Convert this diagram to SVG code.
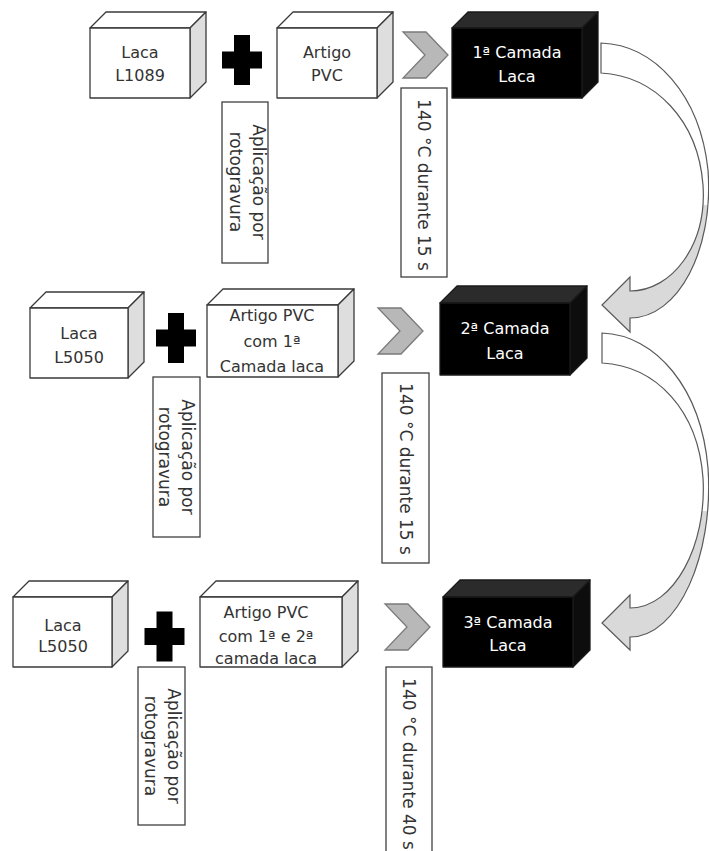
<svg xmlns="http://www.w3.org/2000/svg" width="709" height="851" viewBox="0 0 709 851">
  <style>
    .face{stroke:#3a3a3a;stroke-width:1.3;stroke-linejoin:round}
    .front{fill:#fff}
    .top{fill:#fff}
    .side{fill:#dedede}
    .dk .face{stroke:#1a1a1a}
    .dk .front{fill:#000}
    .dk .top{fill:#2b2b2b}
    .dk .side{fill:#0d0d0d}
    .lbl{font-family:"DejaVu Sans","Open Sans",sans-serif;font-size:16px;fill:#333;text-anchor:middle}
    .lbl.rot{font-size:17px}
    .dk .lbl{fill:#fff}
    .plus{fill:#000}
    .note rect{fill:#fff;stroke:#404040;stroke-width:1.3}
    .chev{fill:#b8b8b8;stroke:#7a7a7a;stroke-width:1.3;stroke-linejoin:miter}
    .flow{fill:url(#ribbon);stroke:#595959;stroke-width:1.2;stroke-linejoin:miter}
  </style>
  <defs>
    <path id="plusSign" d="M-8 -25H8V-8.5H20V8.5H8V25H-8V8.5H-20V-8.5H-8Z"/>
    <path id="chevron" d="M0 0H23L45 23L23 46H0L22 23Z"/>
    <linearGradient id="ribbon" x1="0" y1="0" x2="0" y2="1">
      <stop offset="0" stop-color="#fff"/>
      <stop offset="0.56" stop-color="#fff"/>
      <stop offset="0.56" stop-color="#d9d9d9"/>
      <stop offset="1" stop-color="#d9d9d9"/>
    </linearGradient>
  </defs>

  <!-- stage 1 -->
  <g id="laca-l1089">
    <path class="face top" d="M90 28L106 12H206L190 28Z"/>
    <path class="face side" d="M190 28L206 12V82L190 98Z"/>
    <rect class="face front" x="90" y="28" width="100" height="70"/>
    <text class="lbl" x="140" y="58">Laca</text>
    <text class="lbl" x="140" y="81">L1089</text>
  </g>
  <g id="plus-1"><use href="#plusSign" class="plus" transform="translate(242 60)"/></g>
  <g id="artigo-pvc">
    <path class="face top" d="M277 28L293 12H393L377 28Z"/>
    <path class="face side" d="M377 28L393 12V82L377 98Z"/>
    <rect class="face front" x="277" y="28" width="100" height="70"/>
    <text class="lbl" x="327" y="58">Artigo</text>
    <text class="lbl" x="327" y="81">PVC</text>
  </g>
  <g id="camada-1" class="dk">
    <path class="face top" d="M452 28L468 12H598L582 28Z"/>
    <path class="face side" d="M582 28L598 12V82L582 98Z"/>
    <rect class="face front" x="452" y="28" width="130" height="70"/>
    <text class="lbl" x="517" y="58">1ª Camada</text>
    <text class="lbl" x="517" y="82">Laca</text>
  </g>
  <g id="aplicacao-1" class="note">
    <rect x="222" y="102" width="46" height="161"/>
    <text class="lbl rot" transform="translate(246.5 182) rotate(90)"><tspan x="0" y="-6">Aplicação por</tspan><tspan x="0" y="17">rotogravura</tspan></text>
  </g>
  <g id="cura-1" class="note">
    <rect x="401" y="88" width="46" height="189"/>
    <text class="lbl rot" transform="translate(424 185) rotate(90)" y="6">140 °C durante 15 s</text>
  </g>

  <!-- stage 2 -->
  <g id="laca-l5050-a">
    <path class="face top" d="M30 308L46 292H144L128 308Z"/>
    <path class="face side" d="M128 308L144 292V362L128 378Z"/>
    <rect class="face front" x="30" y="308" width="98" height="70"/>
    <text class="lbl" x="79" y="339">Laca</text>
    <text class="lbl" x="79" y="363">L5050</text>
  </g>
  <g id="plus-2"><use href="#plusSign" class="plus" transform="translate(176 338)"/></g>
  <g id="artigo-pvc-1">
    <path class="face top" d="M207 305L223 289H354L338 305Z"/>
    <path class="face side" d="M338 305L354 289V361L338 377Z"/>
    <rect class="face front" x="207" y="305" width="131" height="72"/>
    <text class="lbl" x="272" y="321">Artigo PVC</text>
    <text class="lbl" x="272" y="347">com 1ª</text>
    <text class="lbl" x="272" y="372">Camada laca</text>
  </g>
  <g id="camada-2" class="dk">
    <path class="face top" d="M440 303L457 286H587L570 303Z"/>
    <path class="face side" d="M570 303L587 286V358L570 375Z"/>
    <rect class="face front" x="440" y="303" width="130" height="72"/>
    <text class="lbl" x="505" y="334">2ª Camada</text>
    <text class="lbl" x="505" y="359">Laca</text>
  </g>
  <g id="aplicacao-2" class="note">
    <rect x="153" y="377" width="47" height="160"/>
    <text class="lbl rot" transform="translate(176 457) rotate(90)"><tspan x="0" y="-6">Aplicação por</tspan><tspan x="0" y="17">rotogravura</tspan></text>
  </g>
  <g id="cura-2" class="note">
    <rect x="382" y="373" width="47" height="190"/>
    <text class="lbl rot" transform="translate(405.5 469) rotate(90)" y="6">140 °C durante 15 s</text>
  </g>

  <!-- stage 3 -->
  <g id="laca-l5050-b">
    <path class="face top" d="M13 597L29 581H128L112 597Z"/>
    <path class="face side" d="M112 597L128 581V651L112 667Z"/>
    <rect class="face front" x="13" y="597" width="99" height="70"/>
    <text class="lbl" x="63" y="631">Laca</text>
    <text class="lbl" x="63" y="652">L5050</text>
  </g>
  <g id="plus-3"><use href="#plusSign" class="plus" transform="translate(164.5 636.5)"/></g>
  <g id="artigo-pvc-2">
    <path class="face top" d="M200 597L216 581H358L342 597Z"/>
    <path class="face side" d="M342 597L358 581V651L342 667Z"/>
    <rect class="face front" x="200" y="597" width="142" height="70"/>
    <text class="lbl" x="266" y="618">Artigo PVC</text>
    <text class="lbl" x="266" y="642">com 1ª e 2ª</text>
    <text class="lbl" x="266" y="664">camada laca</text>
  </g>
  <g id="camada-3" class="dk">
    <path class="face top" d="M443 597L460 580H590L573 597Z"/>
    <path class="face side" d="M573 597L590 580V650L573 667Z"/>
    <rect class="face front" x="443" y="597" width="130" height="70"/>
    <text class="lbl" x="508" y="628">3ª Camada</text>
    <text class="lbl" x="508" y="651">Laca</text>
  </g>
  <g id="aplicacao-3" class="note">
    <rect x="138" y="667" width="47" height="158"/>
    <text class="lbl rot" transform="translate(161.5 746) rotate(90)"><tspan x="0" y="-6">Aplicação por</tspan><tspan x="0" y="17">rotogravura</tspan></text>
  </g>
  <g id="cura-3" class="note">
    <rect x="386" y="667" width="46" height="200"/>
    <text class="lbl rot" transform="translate(409 764) rotate(90)" y="6">140 °C durante 40 s</text>
  </g>

  <!-- connectors: heating chevrons and ribbon arrows between layers -->
  <g id="connectors">
    <use href="#chevron" class="chev" transform="translate(403 32)"/>
    <use href="#chevron" class="chev" transform="translate(378 308)"/>
    <use href="#chevron" class="chev" transform="translate(385 604)"/>
    <path class="flow" d="M601 43C655 45 700 95 708 170C714 250 678 318 630 318L630 332L602 305L630 277L630 291C672 291 707 245 703 185C698 120 655 76 601 73Z"/>
    <path class="flow" d="M602 333C656 335 701 388 708 468C714 555 678 637 630 637L630 650L602 623L630 595L630 608C674 608 707 545 703 478C698 410 656 366 602 363Z"/>
  </g>
</svg>
